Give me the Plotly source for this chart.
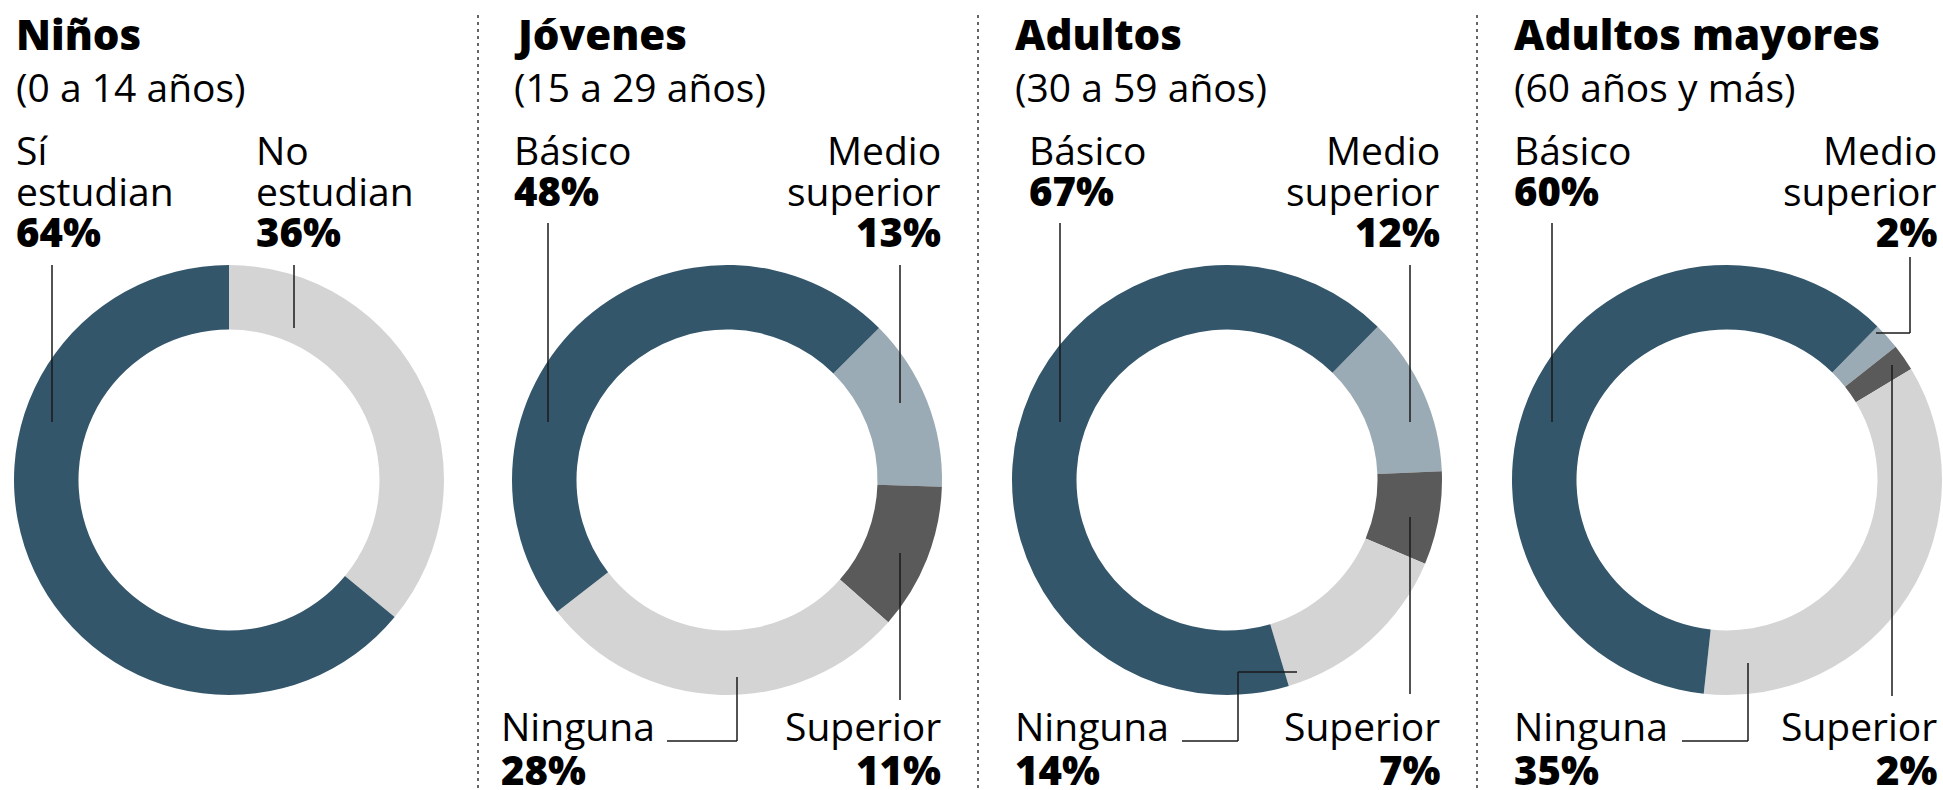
import plotly.graph_objects as go

W, H = 1943, 790

# ---------------- data ----------------
groups = ["Niños", "Jóvenes", "Adultos", "Adultos mayores"]
subtitles = ["(0 a 14 años)", "(15 a 29 años)", "(30 a 59 años)", "(60 años y más)"]

ninos_labels = ["No estudian", "Sí estudian"]
ninos_values = [36, 64]

edu_labels = ["Medio superior", "Superior", "Ninguna", "Básico"]
jovenes_values = [13, 11, 28, 48]
adultos_values = [12, 7, 14, 67]
mayores_values = [2, 2, 35, 60]

# ---------------- style ----------------
C_BLUE = "#34566b"
C_LIGHT = "#d4d4d4"
C_MID = "#9aabb5"
C_DARK = "#5a5a5a"
ninos_colors = [C_LIGHT, C_BLUE]
edu_colors = [C_MID, C_DARK, C_LIGHT, C_BLUE]

FONT = "Open Sans, Lato, sans-serif"
TITLE_SIZE = 42
TEXT_SIZE = 39
PCT_SIZE = 40

centers_x = [229, 727, 1227, 1727]
center_y = 480
R = 215
rotations = [0, 45, 44.5, 44.4]

fig = go.Figure()

series = [
    (ninos_labels, ninos_values, ninos_colors),
    (edu_labels, jovenes_values, edu_colors),
    (edu_labels, adultos_values, edu_colors),
    (edu_labels, mayores_values, edu_colors),
]

for i, (labs, vals, cols) in enumerate(series):
    cx = centers_x[i]
    fig.add_trace(go.Pie(
        labels=labs, values=vals, sort=False, direction="clockwise",
        rotation=rotations[i], hole=0.70,
        marker=dict(colors=cols, line=dict(width=0)),
        textinfo="none", hoverinfo="label+percent", showlegend=False,
        domain=dict(x=[(cx - R) / W, (cx + R) / W],
                    y=[1 - (center_y + R) / H, 1 - (center_y - R) / H]),
    ))

annotations = []


def txt(x, baseline, s, size=TEXT_SIZE, bold=False, align="left"):
    yc = baseline - 0.388 * size
    annotations.append(dict(
        x=x / W, y=1 - yc / H, xref="paper", yref="paper",
        text=s, showarrow=False,
        xanchor=align, yanchor="middle", align=align,
        font=dict(family=FONT, size=size, color="#000000",
                  weight=800 if bold else 400),
        borderpad=0,
    ))


def pct(v):
    return f"{v}%"


# titles
title_x = [15, 513, 1014, 1513]
for i in range(4):
    txt(title_x[i], 50, groups[i], TITLE_SIZE, True)
    txt(title_x[i], 102, subtitles[i])

# Niños labels
txt(15, 165, "Sí")
txt(15, 206, "estudian")
txt(15, 247, pct(ninos_values[1]), PCT_SIZE, True)
txt(255, 165, "No")
txt(255, 206, "estudian")
txt(255, 247, pct(ninos_values[0]), PCT_SIZE, True)

# education panels
left_x = [None, 513, 1028, 1513]
right_x = [None, 942, 1441, 1938]
bottom_left_x = [None, 500, 1014, 1513]
vals_list = [None, jovenes_values, adultos_values, mayores_values]
for i in range(1, 4):
    v = vals_list[i]
    txt(left_x[i], 165, "Básico")
    txt(left_x[i], 206, pct(v[3]), PCT_SIZE, True)
    txt(right_x[i], 165, "Medio", align="right")
    txt(right_x[i], 206, "superior", align="right")
    txt(right_x[i], 247, pct(v[0]), PCT_SIZE, True, align="right")
    txt(bottom_left_x[i], 741, "Ninguna")
    txt(bottom_left_x[i], 785, pct(v[2]), PCT_SIZE, True)
    txt(right_x[i], 741, "Superior", align="right")
    txt(right_x[i], 785, pct(v[1]), PCT_SIZE, True, align="right")

shapes = []
LC = "#1a1a1a"


def seg(x0, y0, x1, y1):
    shapes.append(dict(type="line", xref="paper", yref="paper",
                       x0=x0 / W, x1=x1 / W, y0=1 - y0 / H, y1=1 - y1 / H,
                       line=dict(color=LC, width=1.5)))


# separators
for sx in [478, 978, 1477]:
    shapes.append(dict(type="line", xref="paper", yref="paper",
                       x0=sx / W, x1=sx / W, y0=1 - 15 / H, y1=0,
                       line=dict(color="#333333", width=1.5, dash="3px,4px")))

# Niños leaders
seg(52, 265, 52, 422)
seg(294, 265, 294, 328)
# Jóvenes
seg(548, 223, 548, 422)
seg(900, 265, 900, 403)
seg(900, 553, 900, 700)
seg(737, 677, 737, 741)
seg(667, 741, 737, 741)
# Adultos
seg(1060, 223, 1060, 422)
seg(1410, 265, 1410, 422)
seg(1410, 517, 1410, 694)
seg(1238, 672, 1297, 672)
seg(1238, 672, 1238, 741)
seg(1182, 741, 1238, 741)
# Adultos mayores
seg(1552, 223, 1552, 422)
seg(1910, 257, 1910, 333)
seg(1876, 333, 1910, 333)
seg(1892, 365, 1892, 696)
seg(1748, 663, 1748, 741)
seg(1682, 741, 1748, 741)

fig.update_layout(
    width=W, height=H,
    margin=dict(l=0, r=0, t=0, b=0),
    paper_bgcolor="white", plot_bgcolor="white",
    annotations=annotations, shapes=shapes,
    font=dict(family=FONT),
)

fig.write_html("out.html")
